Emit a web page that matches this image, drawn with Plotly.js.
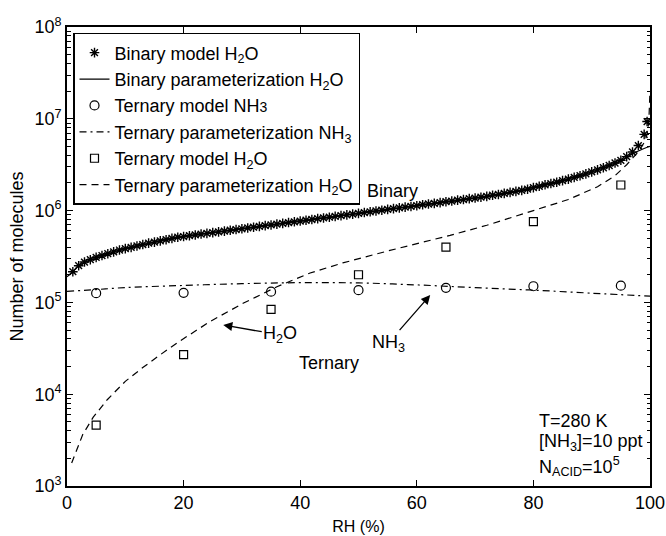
<!DOCTYPE html>
<html>
<head>
<meta charset="utf-8">
<script src="https://cdn.plot.ly/plotly-3.0.1.min.js"></script>
<style>html,body{margin:0;padding:0;background:#fff;}#chart{width:666px;height:536px;}</style>
</head>
<body>
<div id="chart"></div>
<script>
// Binary model H2O (asterisks)
var binaryModelRH = [1,2,3,4,5,6,7,8,9,10,11,12,13,14,15,16,17,18,19,20,
  21,22,23,24,25,26,27,28,29,30,31,32,33,34,35,36,37,38,39,40,
  41,42,43,44,45,46,47,48,49,50,51,52,53,54,55,56,57,58,59,60,
  61,62,63,64,65,66,67,68,69,70,71,72,73,74,75,76,77,78,79,80,
  81,82,83,84,85,86,87,88,89,90,91,92,93,94,95,96,97,98,99,99.5];
var binaryModelH2O = [2.16e5,2.51e5,2.75e5,2.92e5,3.09e5,3.24e5,3.39e5,3.55e5,3.72e5,3.85e5,
  3.98e5,4.12e5,4.27e5,4.42e5,4.54e5,4.68e5,4.82e5,4.98e5,5.13e5,5.22e5,
  5.33e5,5.43e5,5.55e5,5.65e5,5.75e5,5.87e5,5.98e5,6.11e5,6.22e5,6.34e5,
  6.47e5,6.59e5,6.73e5,6.86e5,6.98e5,7.13e5,7.26e5,7.41e5,7.55e5,7.69e5,
  7.85e5,8.00e5,8.17e5,8.32e5,8.47e5,8.65e5,8.81e5,8.99e5,9.16e5,9.33e5,
  9.53e5,9.70e5,9.91e5,1.01e6,1.03e6,1.05e6,1.07e6,1.09e6,1.11e6,1.13e6,
  1.16e6,1.18e6,1.20e6,1.22e6,1.25e6,1.27e6,1.30e6,1.32e6,1.35e6,1.37e6,
  1.40e6,1.43e6,1.47e6,1.50e6,1.54e6,1.58e6,1.62e6,1.66e6,1.71e6,1.78e6,
  1.84e6,1.91e6,1.97e6,2.04e6,2.12e6,2.20e6,2.30e6,2.40e6,2.51e6,2.64e6,
  2.78e6,2.93e6,3.10e6,3.30e6,3.53e6,3.87e6,4.35e6,5.11e6,6.76e6,9.33e6];

// Binary parameterization H2O (solid)
var binaryParamRH = [0,1,2,4,6,10,15,20,30,40,50,60,70,80,85,90,93,95,97,98,99,100];
var binaryParamH2O = [1.9e5,2.16e5,2.51e5,2.92e5,3.24e5,3.85e5,4.54e5,5.22e5,6.34e5,7.69e5,
  9.33e5,1.13e6,1.37e6,1.78e6,2.12e6,2.64e6,3.10e6,3.50e6,4.15e6,4.45e6,4.75e6,5.0e6];

// Ternary model (circles / squares)
var ternaryModelRH = [5,20,35,50,65,80,95];
var ternaryModelNH3 = [1.26e5,1.27e5,1.31e5,1.36e5,1.44e5,1.50e5,1.52e5];
var ternaryModelH2O = [4.6e3,2.7e4,8.4e4,2.0e5,4.0e5,7.6e5,1.9e6];

// Ternary parameterization NH3 (dash-dot)
var ternaryParamNH3RH = [0,5,10,20,30,40,50,60,70,80,90,100];
var ternaryParamNH3 = [1.32e5,1.38e5,1.45e5,1.53e5,1.60e5,1.64e5,1.63e5,1.55e5,1.45e5,1.36e5,1.26e5,1.17e5];

// Ternary parameterization H2O (dashed)
var ternaryParamH2ORH = [0.8,1,2.7,4.5,6.9,10,13,16,18.9,24.5,30.2,36,41.7,47.3,55,65.7,72,80,86,91,94,96,98,99,99.5,99.8,100];
var ternaryParamH2O = [1.78e3,1.91e3,3.63e3,5.62e3,8.71e3,1.38e4,1.95e4,2.69e4,3.63e4,6.17e4,9.77e4,1.48e5,
  2.09e5,2.69e5,3.63e5,5.37e5,6.92e5,1.0e6,1.32e6,1.82e6,2.40e6,3.16e6,4.37e6,5.50e6,6.76e6,9.33e6,2.0e7];

var yTickVals = [1e3,1e4,1e5,1e6,1e7,1e8];
var yTickText = ['10<sup>3</sup>','10<sup>4</sup>','10<sup>5</sup>','10<sup>6</sup>','10<sup>7</sup>','10<sup>8</sup>'];

var FONT = 'Liberation Sans, Arial, Helvetica, sans-serif';
var FS = 18;
var minorVals = [];
for (var d = 3; d < 8; d++) { for (var m = 2; m <= 9; m++) { minorVals.push(m * Math.pow(10, d)); } }

var traces = [
  {x: binaryModelRH, y: binaryModelH2O, mode: 'markers', type: 'scatter',
   name: 'Binary model H<sub>2</sub>O',
   marker: {symbol: 'asterisk-open', size: 8, color: '#000', line: {color: '#000', width: 1.4}}},
  {x: binaryParamRH, y: binaryParamH2O, mode: 'lines', type: 'scatter',
   name: 'Binary parameterization H<sub>2</sub>O',
   line: {color: '#000', width: 1.2, shape: 'spline'}},
  {x: ternaryModelRH, y: ternaryModelNH3, mode: 'markers', type: 'scatter',
   name: 'Ternary model NH<span style="font-size:14px">3</span>',
   marker: {symbol: 'circle-open', size: 9, color: '#000', line: {color: '#000', width: 1.2}}},
  {x: ternaryParamNH3RH, y: ternaryParamNH3, mode: 'lines', type: 'scatter',
   name: 'Ternary parameterization NH<sub>3</sub>',
   line: {color: '#000', width: 1.2, dash: '7px,4px,2px,4px', shape: 'spline'}},
  {x: ternaryModelRH, y: ternaryModelH2O, mode: 'markers', type: 'scatter',
   name: 'Ternary model H<sub>2</sub>O',
   marker: {symbol: 'square-open', size: 8, color: '#000', line: {color: '#000', width: 1.2}}},
  {x: ternaryParamH2ORH, y: ternaryParamH2O, mode: 'lines', type: 'scatter',
   name: 'Ternary parameterization H<sub>2</sub>O',
   line: {color: '#000', width: 1.2, dash: '7px,5px'}}
];

var layout = {
  width: 666, height: 536,
  margin: {l: 67, r: 16, t: 27, b: 50},
  paper_bgcolor: '#fff', plot_bgcolor: '#fff',
  font: {family: FONT, size: FS, color: '#000'},
  showlegend: true,
  legend: {x: 0.0103, y: 0.987, xanchor: 'left', yanchor: 'top',
    bgcolor: '#fff', bordercolor: '#000', borderwidth: 1.5,
    font: {family: FONT, size: FS, color: '#000'}, tracegroupgap: 0},
  xaxis: {range: [0, 100], tickmode: 'linear', tick0: 0, dtick: 20,
    ticks: 'inside', ticklen: 6, tickwidth: 1, tickcolor: '#000',
    showline: true, linecolor: '#000', linewidth: 1.8, mirror: 'ticks',
    showgrid: false, zeroline: false,
    tickfont: {family: FONT, size: FS},
    title: {text: 'RH (%)', font: {family: FONT, size: 16}, standoff: 8}},
  yaxis: {type: 'log', range: [3, 8], tickmode: 'array', tickvals: yTickVals, ticktext: yTickText,
    ticks: 'inside', ticklen: 6, tickwidth: 1, tickcolor: '#000',
    minor: {tickmode: 'array', tickvals: minorVals, ticks: 'inside', ticklen: 3.5, tickwidth: 1, tickcolor: '#000', showgrid: false},
    showline: true, linecolor: '#000', linewidth: 1.8, mirror: 'ticks',
    showgrid: false, zeroline: false,
    tickfont: {family: FONT, size: FS},
    title: {text: 'Number of molecules', font: {family: FONT, size: FS}, standoff: 6}},
  annotations: [
    {x: 55.8, y: 6.21, xref: 'x', yref: 'y', text: 'Binary', showarrow: false, font: {family: FONT, size: FS}},
    {x: 44.9, y: 4.34, xref: 'x', yref: 'y', text: 'Ternary', showarrow: false, font: {family: FONT, size: FS}},
    {x: 26.8, y: 4.754, xref: 'x', yref: 'y', text: 'H<sub>2</sub>O', showarrow: true,
     ax: 57, ay: 10, arrowhead: 2, arrowsize: 1.4, arrowwidth: 1.3, arrowcolor: '#000', standoff: 0,
     font: {family: FONT, size: FS}},
    {x: 62.3, y: 5.08, xref: 'x', yref: 'y', text: 'NH<sub>3</sub>', showarrow: true,
     ax: -42, ay: 48, arrowhead: 2, arrowsize: 1.4, arrowwidth: 1.3, arrowcolor: '#000', standoff: 0,
     font: {family: FONT, size: FS}},
    {x: 0.806, y: 0.1416, xref: 'paper', yref: 'paper', xanchor: 'left', yanchor: 'middle',
     text: 'T=280 K', showarrow: false, font: {family: FONT, size: FS}},
    {x: 0.806, y: 0.0937, xref: 'paper', yref: 'paper', xanchor: 'left', yanchor: 'middle',
     text: '[NH<sub>3</sub>]=10 ppt', showarrow: false, font: {family: FONT, size: FS}},
    {x: 0.806, y: 0.0414, xref: 'paper', yref: 'paper', xanchor: 'left', yanchor: 'middle',
     text: 'N<sub>ACID</sub>=10<sup>5</sup>', showarrow: false, font: {family: FONT, size: FS}}
  ]
};

Plotly.newPlot('chart', traces, layout, {displayModeBar: false, staticPlot: true});
</script>
</body>
</html>
